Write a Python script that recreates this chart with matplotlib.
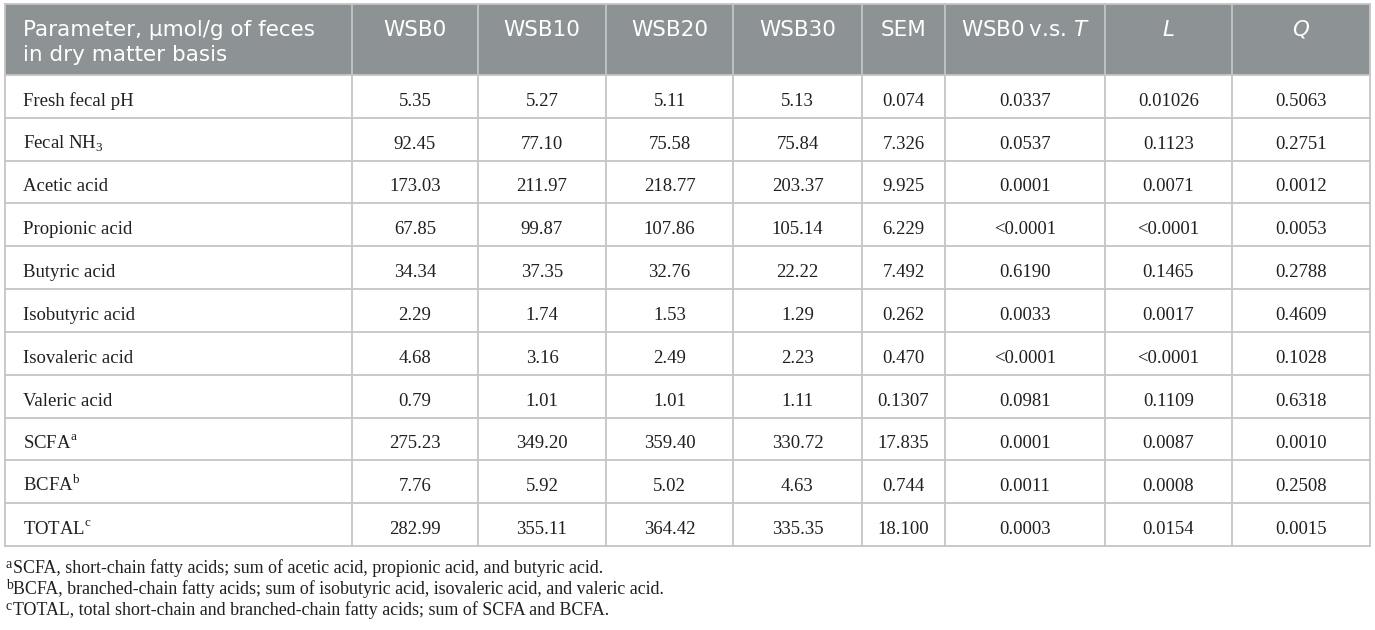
import matplotlib
matplotlib.use("Agg")
import matplotlib.pyplot as plt
from matplotlib.patches import Rectangle

plt.rcParams['mathtext.fontset'] = 'custom'
plt.rcParams['mathtext.rm'] = 'Liberation Serif'
plt.rcParams['mathtext.it'] = 'DejaVu Sans:italic'

# ---- data ----
header_first = ["Parameter, \u00b5mol/g of feces", "in dry matter basis"]
headers = ["WSB0", "WSB10", "WSB20", "WSB30", "SEM", "WSB0\u2009v.s. $\\mathit{T}$", "L", "Q"]
parameters = ["Fresh fecal pH", "Fecal NH$_{\\mathrm{3}}$", "Acetic acid", "Propionic acid", "Butyric acid",
              "Isobutyric acid", "Isovaleric acid", "Valeric acid",
              "SCFA$^{\\mathrm{a}}$", "BCFA$^{\\mathrm{b}}$", "TOTAL$^{\\mathrm{c}}$"]
wsb0 = ["5.35", "92.45", "173.03", "67.85", "34.34", "2.29", "4.68", "0.79", "275.23", "7.76", "282.99"]
wsb10 = ["5.27", "77.10", "211.97", "99.87", "37.35", "1.74", "3.16", "1.01", "349.20", "5.92", "355.11"]
wsb20 = ["5.11", "75.58", "218.77", "107.86", "32.76", "1.53", "2.49", "1.01", "359.40", "5.02", "364.42"]
wsb30 = ["5.13", "75.84", "203.37", "105.14", "22.22", "1.29", "2.23", "1.11", "330.72", "4.63", "335.35"]
sem = ["0.074", "7.326", "9.925", "6.229", "7.492", "0.262", "0.470", "0.1307", "17.835", "0.744", "18.100"]
p_t = ["0.0337", "0.0537", "0.0001", "<0.0001", "0.6190", "0.0033", "<0.0001", "0.0981", "0.0001", "0.0011", "0.0003"]
p_l = ["0.01026", "0.1123", "0.0071", "<0.0001", "0.1465", "0.0017", "<0.0001", "0.1109", "0.0087", "0.0008", "0.0154"]
p_q = ["0.5063", "0.2751", "0.0012", "0.0053", "0.2788", "0.4609", "0.1028", "0.6318", "0.0010", "0.2508", "0.0015"]
footnote_marks = ["a", "b", "c"]
footnotes = ["SCFA, short-chain fatty acids; sum of acetic acid, propionic acid, and butyric acid.",
             "BCFA, branched-chain fatty acids; sum of isobutyric acid, isovaleric acid, and valeric acid.",
             "TOTAL, total short-chain and branched-chain fatty acids; sum of SCFA and BCFA."]

columns = [parameters, wsb0, wsb10, wsb20, wsb30, sem, p_t, p_l, p_q]

# ---- layout (pixels) ----
W, H = 1375, 630
col_edges = [5, 352, 478, 606, 733, 862, 945, 1105, 1232, 1370]
top, head_bot, bottom = 4, 75, 546
nrows = len(parameters)
row_h = (bottom - head_bot) / nrows
header_color = "#8d9294"
grid_color = "#c3c5c6"

fig = plt.figure(figsize=(W / 100, H / 100), dpi=100)
ax = fig.add_axes([0, 0, 1, 1])
ax.set_xlim(0, W)
ax.set_ylim(H, 0)
ax.axis("off")

ax.add_patch(Rectangle((col_edges[0], top), col_edges[-1] - col_edges[0], head_bot - top,
                       facecolor=header_color, edgecolor="none", zorder=1))

# grid lines
for i in range(nrows + 1):
    y = head_bot + i * row_h
    ax.plot([col_edges[0], col_edges[-1]], [y, y], color=grid_color, lw=1.3, zorder=2)
ax.plot([col_edges[0], col_edges[-1]], [top, top], color=grid_color, lw=1.3, zorder=2)
for x in col_edges:
    ax.plot([x, x], [top, bottom], color=grid_color, lw=1.3, zorder=2)

head_font = dict(family=["DejaVu Sans"], fontsize=15.5, color="white")
body_font = dict(family=["Liberation Serif", "DejaVu Serif"], fontsize=13.5, color="#231f20")

# headers
for k, line in enumerate(header_first):
    ax.text(col_edges[0] + 18, 36 + k * 25, line, ha="left", va="baseline", zorder=3, **head_font)
for j, h in enumerate(headers):
    style = "italic" if h in ("L", "Q") else "normal"
    cx = (col_edges[j + 1] + col_edges[j + 2]) / 2
    ax.text(cx, 36, h, ha="center", va="baseline", fontstyle=style, zorder=3, **head_font)

# body
for j, col in enumerate(columns):
    for i, v in enumerate(col):
        by = head_bot + (i + 1) * row_h - 12
        if j == 0:
            ax.text(col_edges[0] + 18, by, v, ha="left", va="baseline", zorder=3, **body_font)
        else:
            cx = (col_edges[j] + col_edges[j + 1]) / 2
            ax.text(cx, by, v, ha="center", va="baseline", zorder=3, **body_font)

# footnotes
for k, (m, f) in enumerate(zip(footnote_marks, footnotes)):
    by = 573 + k * 21
    ax.text(col_edges[0] + 1, by - 5, m, ha="left", va="baseline",
            zorder=3, **dict(body_font, fontsize=10))
    ax.text(col_edges[0] + 8, by, f, ha="left", va="baseline",
            zorder=3, **dict(body_font, fontsize=12.9))

fig.savefig("out.png", dpi=100, facecolor="white")
